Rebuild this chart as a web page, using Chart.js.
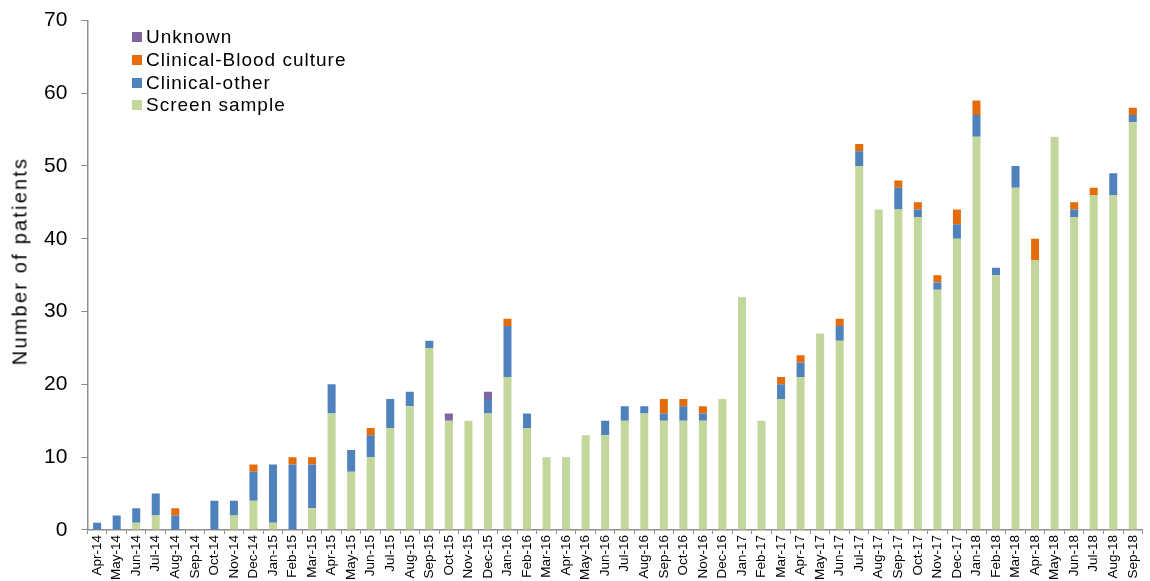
<!DOCTYPE html>
<html>
<head>
<meta charset="utf-8">
<script src="https://cdn.jsdelivr.net/npm/chart.js@4"></script>
<style>
    body { margin: 0; background: #fff; }
    #wrap { position: relative; width: 1150px; height: 581px; }
    #legenda { position: absolute; left: 132px; top: 26px; font-family: 'Liberation Sans', Arial, sans-serif; font-size: 19px; letter-spacing: 1px; color: #000; }
    #legenda div { height: 22.8px; line-height: 22.8px; white-space: nowrap; }
    #legenda span { display: inline-block; width: 10px; height: 10px; margin-right: 4px; vertical-align: 1px; }
    #tituloY { position: absolute; left: 20px; top: 261px; transform: translate(-50%, -50%) rotate(-90deg); font-family: 'Liberation Sans', Arial, sans-serif; font-size: 20px; letter-spacing: 2.2px; white-space: nowrap; color: #000; }
</style>
</head>
<body>
<div id="wrap">
    <canvas id="grafico" width="1150" height="581"></canvas>
    <div id="legenda"></div>
    <div id="tituloY">Number of patients</div>
</div>
<script>
const meses = ['Apr-14', 'May-14', 'Jun-14', 'Jul-14', 'Aug-14', 'Sep-14', 'Oct-14', 'Nov-14', 'Dec-14',
    'Jan-15', 'Feb-15', 'Mar-15', 'Apr-15', 'May-15', 'Jun-15', 'Jul-15', 'Aug-15', 'Sep-15', 'Oct-15', 'Nov-15', 'Dec-15',
    'Jan-16', 'Feb-16', 'Mar-16', 'Apr-16', 'May-16', 'Jun-16', 'Jul-16', 'Aug-16', 'Sep-16', 'Oct-16', 'Nov-16', 'Dec-16',
    'Jan-17', 'Feb-17', 'Mar-17', 'Apr-17', 'May-17', 'Jun-17', 'Jul-17', 'Aug-17', 'Sep-17', 'Oct-17', 'Nov-17', 'Dec-17',
    'Jan-18', 'Feb-18', 'Mar-18', 'Apr-18', 'May-18', 'Jun-18', 'Jul-18', 'Aug-18', 'Sep-18'];

const screenSample = [0, 0, 1, 2, 0, 0, 0, 2, 4,
    1, 0, 3, 16, 8, 10, 14, 17, 25, 15, 15, 16,
    21, 14, 10, 10, 13, 13, 15, 16, 15, 15, 15, 18,
    32, 15, 18, 21, 27, 26, 50, 44, 44, 43, 33, 40,
    54, 35, 47, 37, 54, 43, 46, 46, 56];
const clinicalOther = [1, 2, 2, 3, 2, 0, 4, 2, 4,
    8, 9, 6, 4, 3, 3, 4, 2, 1, 0, 0, 2,
    7, 2, 0, 0, 0, 2, 2, 1, 1, 2, 1, 0,
    0, 0, 2, 2, 0, 2, 2, 0, 3, 1, 1, 2,
    3, 1, 3, 0, 0, 1, 0, 3, 1];
const bloodCulture = [0, 0, 0, 0, 1, 0, 0, 0, 1,
    0, 1, 1, 0, 0, 1, 0, 0, 0, 0, 0, 0,
    1, 0, 0, 0, 0, 0, 0, 0, 2, 1, 1, 0,
    0, 0, 1, 1, 0, 1, 1, 0, 1, 1, 1, 2,
    2, 0, 0, 3, 0, 1, 1, 0, 1];
const unknown = [0, 0, 0, 0, 0, 0, 0, 0, 0,
    0, 0, 0, 0, 0, 0, 0, 0, 0, 1, 0, 1,
    0, 0, 0, 0, 0, 0, 0, 0, 0, 0, 0, 0,
    0, 0, 0, 0, 0, 0, 0, 0, 0, 0, 0, 0,
    0, 0, 0, 0, 0, 0, 0, 0, 0];

const series = [
    { label: 'Screen sample', data: screenSample, cor: '#C3D69B' },
    { label: 'Clinical-other', data: clinicalOther, cor: '#4F81BD' },
    { label: 'Clinical-Blood culture', data: bloodCulture, cor: '#E46C0A' },
    { label: 'Unknown', data: unknown, cor: '#8064A2' }
];

const fonte = "'Liberation Sans', Arial, sans-serif";
const cinza = '#8c8c8c';

// legenda em html, ordem invertida como no original
document.getElementById('legenda').innerHTML = series.slice().reverse()
    .map(s => `<div><span style="background:${s.cor}"></span>${s.label}</div>`).join('');

new Chart(document.getElementById('grafico').getContext('2d'), {
    type: 'bar',
    data: {
        labels: meses,
        datasets: series.map(s => ({
            label: s.label,
            data: s.data,
            backgroundColor: s.cor,
            borderWidth: 0,
            barPercentage: 0.41,
            categoryPercentage: 1
        }))
    },
    options: {
        responsive: false,
        animation: false,
        layout: { padding: { top: 8, right: 1, left: 30, bottom: 0 } },
        plugins: {
            legend: { display: false },
            tooltip: { enabled: false }
        },
        scales: {
            x: {
                stacked: true,
                offset: true,
                grid: { display: true, drawOnChartArea: false, drawTicks: true, tickLength: 4, color: cinza, offset: true },
                border: { color: cinza, width: 1.5 },
                ticks: {
                    autoSkip: false,
                    minRotation: 90,
                    maxRotation: 90,
                    padding: 1,
                    color: '#000',
                    font: { family: fonte, size: 13.5 }
                }
            },
            y: {
                stacked: true,
                min: 0,
                max: 70,
                grid: { display: true, drawOnChartArea: false, drawTicks: true, tickLength: 6, color: cinza },
                border: { color: cinza, width: 1.5 },
                ticks: {
                    stepSize: 10,
                    padding: 14,
                    color: '#000',
                    font: { family: fonte, size: 21, lineHeight: 0.6 }
                }
            }
        }
    }
});
</script>
</body>
</html>
